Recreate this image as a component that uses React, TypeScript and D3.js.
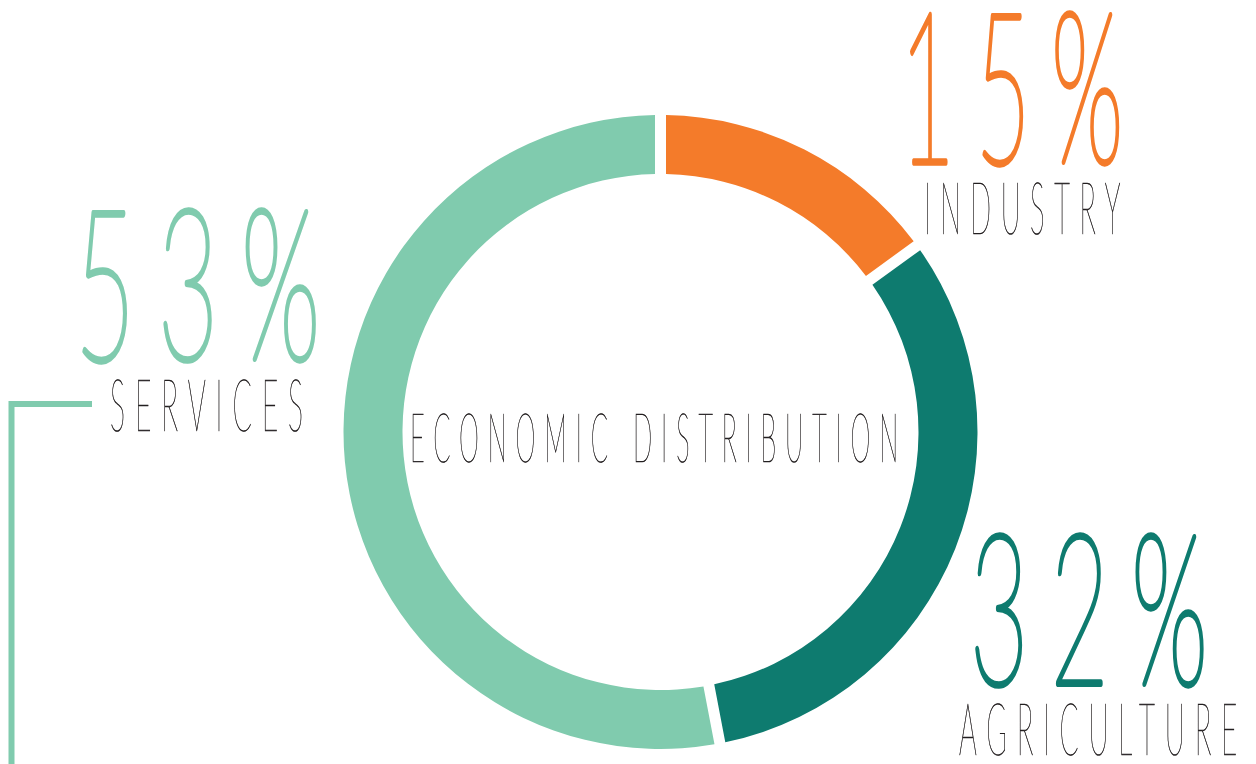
import React from "react";
import * as d3 from "d3";

const categories = ["INDUSTRY", "AGRICULTURE", "SERVICES"];
const values = [15, 32, 53];
const colors = ["#F47B2A", "#0E7B6F", "#80CBAE"];
const centerTitle = "ECONOMIC DISTRIBUTION";

const W = 1256;
const H = 764;
const cx = 660.5;
const cy = 432;
const outerR = 317;
const innerR = 258;

// label layout: (x start, baseline y, width)
const numberPos = [
  { x: 900, y: 163, w: 244 },
  { x: 970, y: 685, w: 260 },
  { x: 75, y: 360, w: 268 },
];
const labelPos = [
  { x: 924, y: 234, w: 206 },
  { x: 959, y: 755, w: 288 },
  { x: 110, y: 431, w: 203 },
];

const FONT = "Lato, Inter, Roboto, 'DejaVu Sans', sans-serif";

export default function App() {
  const pie = d3
    .pie<number>()
    .sort(null)
    .value((d) => d)
    .startAngle(0)
    .endAngle(Math.PI * 2);
  const arcs = pie(values);
  const arc = d3
    .arc<d3.PieArcDatum<number>>()
    .innerRadius(innerR)
    .outerRadius(outerR)
    .padAngle(11 / outerR)
    .padRadius(outerR);

  return (
    <svg
      width={W}
      height={H}
      style={{ position: "fixed", left: 0, top: 0, background: "#fff" }}
    >
      <g transform={`translate(${cx},${cy})`}>
        {arcs.map((a, i) => (
          <path key={i} d={arc(a) || ""} fill={colors[i]} />
        ))}
      </g>
      <path
        d={`M92,404 H11.5 V${H}`}
        fill="none"
        stroke={colors[2]}
        strokeWidth={6}
      />
      <g opacity={0.999} style={{ willChange: "transform" }}>
        <text
          x={410}
          y={462}
          textLength={497}
          lengthAdjust="spacingAndGlyphs"
          fontFamily={FONT}
          fontWeight={100}
          fontSize={68}
          letterSpacing="0.35em"
          fill="#231F20"
          stroke="#231F20"
          strokeWidth={0.7}
        >
          {centerTitle}
        </text>
        {values.map((v, i) => (
          <g key={i}>
            <text
              x={numberPos[i].x}
              y={numberPos[i].y}
              textLength={numberPos[i].w}
              lengthAdjust="spacingAndGlyphs"
              fontFamily={FONT}
              fontWeight={100}
              fontSize={210}
              letterSpacing="0.22em"
              fill={colors[i]}
              stroke={colors[i]}
              strokeWidth={5.5}
              strokeLinejoin="round"
              strokeLinecap="round"
            >
              {`${v}%`}
            </text>
            <text
              x={labelPos[i].x}
              y={labelPos[i].y}
              textLength={labelPos[i].w}
              lengthAdjust="spacingAndGlyphs"
              fontFamily={FONT}
              fontWeight={100}
              fontSize={72}
              letterSpacing="0.35em"
              fill="#231F20"
              stroke="#231F20"
              strokeWidth={0.7}
            >
              {categories[i]}
            </text>
          </g>
        ))}
      </g>
    </svg>
  );
}
